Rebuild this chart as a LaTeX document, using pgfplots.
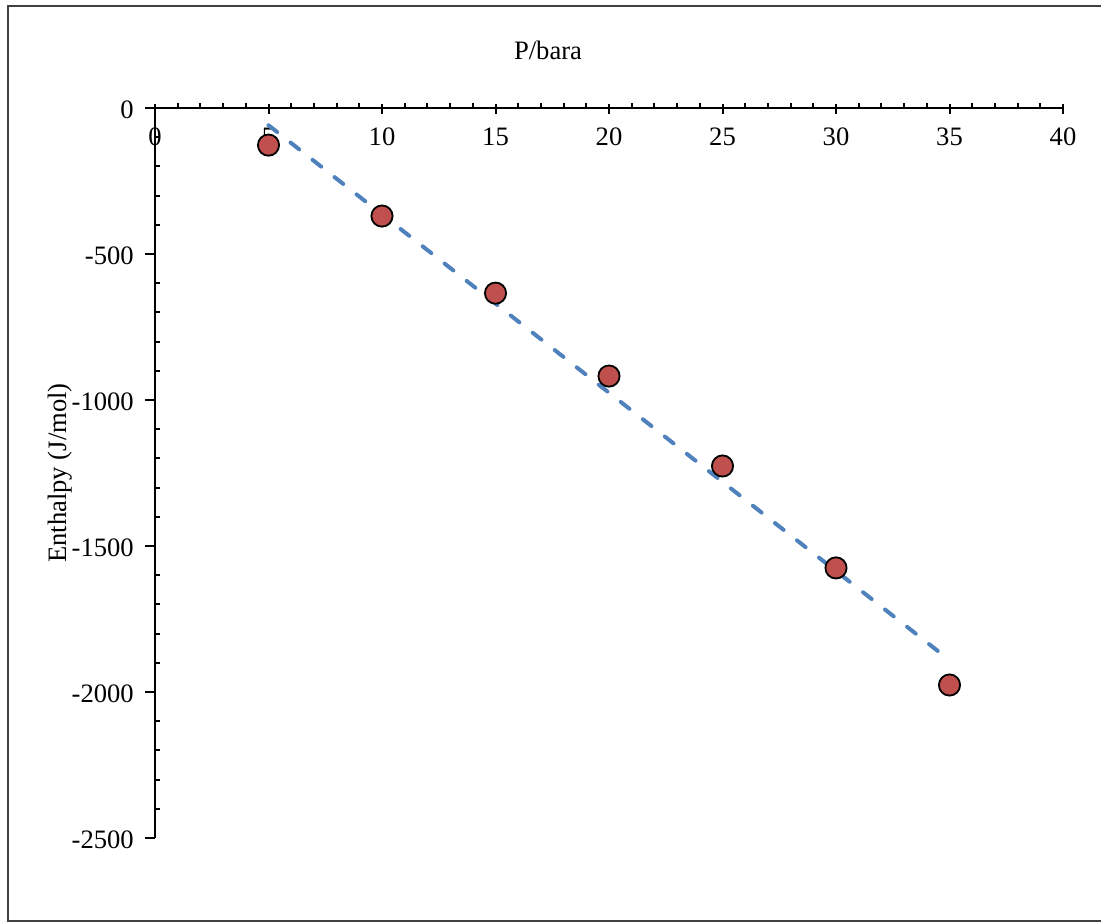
\documentclass[border=0pt]{standalone}
\usepackage{fontspec}
\setmainfont{Liberation Serif}
\usepackage{pgfplots}
\pgfplotsset{compat=1.18}
\definecolor{ptred}{RGB}{192,80,77}
\definecolor{trendblue}{RGB}{79,129,189}

\begin{document}
\fontsize{13.3}{16}\selectfont
\begin{tikzpicture}
\useasboundingbox (0,0) rectangle (550.5pt,-461.5pt);
% chart area frame (right edge falls outside)
\draw[black!75, line width=1pt] (551pt,-2.75pt) -- (3.75pt,-2.75pt) -- (3.75pt,-460.5pt) -- (551pt,-460.5pt);
\begin{axis}[
  at={(77.5pt,-54pt)}, anchor=north west,
  scale only axis, width=454pt, height=365pt,
  xmin=0, xmax=40, ymin=-2500, ymax=0,
  axis x line=top, axis y line=left,
  axis line style={-, line width=1pt},
  xtick={0,5,...,40}, minor x tick num=4,
  ytick={-2500,-2000,...,0}, minor y tick num=4,
  xticklabels={0,5,10,15,20,25,30,35,40},
  yticklabels={-2500,-2000,-1500,-1000,-500,0},
  tick align=outside,
  major tick length=5pt, minor tick length=2.5pt,
  tick style={black, line width=1pt},
  major x tick style={yshift=-3pt},
  minor y tick style={xshift=2.5pt},
  xticklabel style={anchor=center, yshift=-19.5pt},
  yticklabel style={xshift=-1pt, yshift=-1pt},
  clip=false,
]
\addplot[only marks, mark=*, mark size=5.3pt,
  mark options={fill=ptred, draw=black, line width=0.9pt}]
  coordinates {(5,-127) (10,-370) (15,-634) (20,-918) (25,-1226) (30,-1575) (35,-1976)};
\addplot[trendblue, line width=2pt, dash pattern=on 5.5pt off 8.5pt, line cap=round]
  coordinates {(5,-59) (35,-1891)};
\end{axis}
\node at (274pt,-25pt) {P/bara};
\node[rotate=90] at (30pt,-236.5pt) {Enthalpy (J/mol)};
\end{tikzpicture}
\end{document}
